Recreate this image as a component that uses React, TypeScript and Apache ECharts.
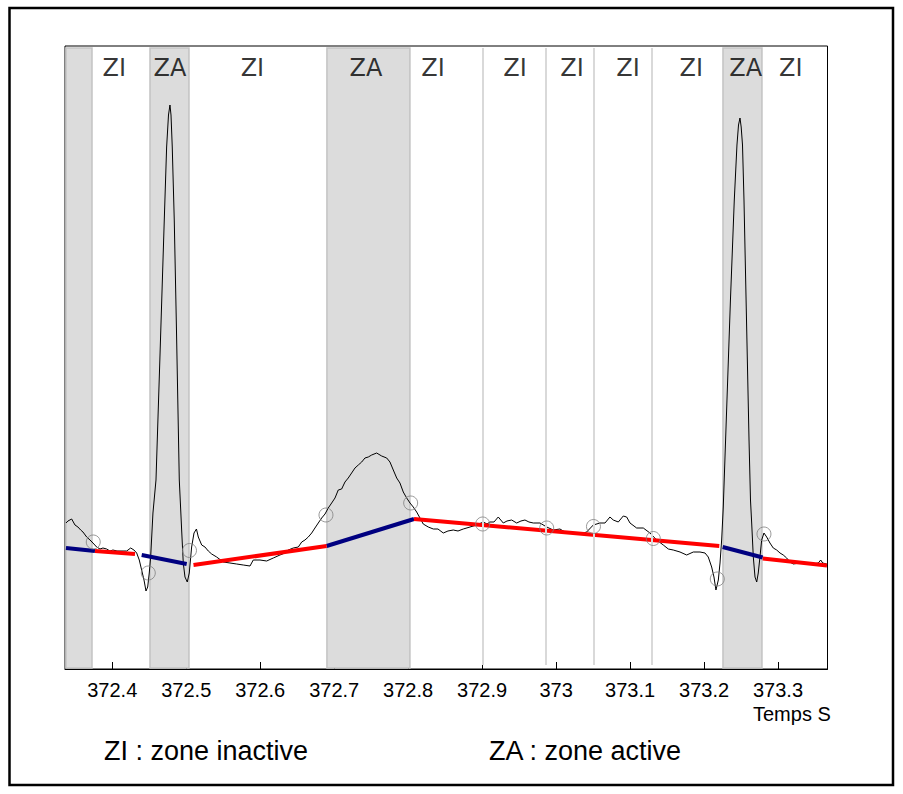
import React, { useEffect, useRef } from "react";
import * as echarts from "echarts";

// x axis tick values (seconds)
const tickValues = [372.4, 372.5, 372.6, 372.7, 372.8, 372.9, 373.0, 373.1, 373.2, 373.3];

// ECG trace: [time (s), amplitude (arbitrary units)]
const ecgSignal: [number, number][] = [
  [372.3374, 146], [372.3401, 148], [372.3451, 150], [372.3496, 144], [372.3536, 142],
  [372.3573, 139], [372.3604, 137], [372.3654, 132], [372.3699, 129], [372.3739, 126],
  [372.3789, 122], [372.3834, 120], [372.3874, 121], [372.3924, 120], [372.3969, 118],
  [372.4009, 119], [372.4064, 118], [372.4104, 118], [372.4158, 118], [372.4195, 118],
  [372.4249, 121], [372.4293, 119], [372.4330, 116], [372.4365, 109], [372.4397, 99],
  [372.4429, 89], [372.4456, 78], [372.4479, 82], [372.4500, 96], [372.4519, 112],
  [372.4550, 156], [372.4591, 189], [372.4645, 313], [372.4703, 449], [372.4735, 522],
  [372.4760, 554], [372.4780, 564], [372.4794, 554], [372.4811, 522], [372.4838, 449],
  [372.4868, 339], [372.4906, 189], [372.4938, 139], [372.4960, 106], [372.4983, 92],
  [372.5014, 87], [372.5041, 96], [372.5073, 122], [372.5105, 136], [372.5138, 140],
  [372.5163, 132], [372.5209, 124], [372.5253, 122], [372.5298, 118], [372.5344, 115],
  [372.5411, 112], [372.5501, 107], [372.5591, 106], [372.5682, 105], [372.5771, 104],
  [372.5862, 103], [372.5906, 109], [372.5997, 109], [372.6087, 108], [372.6177, 111],
  [372.6267, 114], [372.6335, 116], [372.6379, 119], [372.6447, 121], [372.6515, 122],
  [372.6561, 127], [372.6605, 129], [372.6650, 132], [372.6696, 136], [372.6740, 141],
  [372.6785, 146], [372.6831, 151], [372.6876, 155], [372.6920, 161], [372.6966, 166],
  [372.7011, 171], [372.7055, 179], [372.7101, 180], [372.7146, 187], [372.7190, 191],
  [372.7236, 196], [372.7281, 201], [372.7326, 204], [372.7372, 207], [372.7416, 211],
  [372.7461, 212], [372.7507, 214], [372.7574, 216], [372.7642, 213], [372.7710, 211],
  [372.7754, 207], [372.7799, 199], [372.7845, 191], [372.7889, 186], [372.7934, 177],
  [372.7980, 171], [372.8025, 166], [372.8069, 162], [372.8115, 157], [372.8160, 151],
  [372.8204, 145], [372.8272, 142], [372.8340, 140], [372.8403, 140], [372.8475, 136],
  [372.8538, 138], [372.8610, 139], [372.8674, 138], [372.8745, 140], [372.8836, 142],
  [372.8926, 144], [372.9016, 147], [372.9066, 145], [372.9106, 147], [372.9160, 147],
  [372.9218, 152], [372.9286, 146], [372.9336, 148], [372.9399, 149], [372.9467, 146],
  [372.9525, 148], [372.9579, 149], [372.9633, 147], [372.9692, 146], [372.9782, 146],
  [372.9873, 142], [372.9962, 139], [373.0052, 140], [373.0143, 136], [373.0232, 136],
  [373.0323, 135], [373.0413, 137], [373.0503, 144], [373.0593, 146], [373.0661, 146],
  [373.0728, 152], [373.0773, 149], [373.0841, 147], [373.0908, 153], [373.0954, 152],
  [373.0999, 146], [373.1089, 141], [373.1179, 141], [373.1269, 136], [373.1360, 129],
  [373.1449, 124], [373.1517, 120], [373.1584, 119], [373.1675, 117], [373.1765, 114],
  [373.1855, 117], [373.1945, 117], [373.2013, 116], [373.2057, 112], [373.2103, 102],
  [373.2134, 92], [373.2161, 79], [373.2193, 89], [373.2216, 106], [373.2238, 129],
  [373.2260, 162], [373.2310, 269], [373.2357, 369], [373.2409, 469], [373.2445, 524],
  [373.2466, 544], [373.2486, 551], [373.2502, 542], [373.2520, 524], [373.2540, 469],
  [373.2574, 349], [373.2608, 229], [373.2628, 169], [373.2644, 146], [373.2666, 112],
  [373.2689, 92], [373.2712, 87], [373.2733, 96], [373.2756, 112], [373.2779, 129],
  [373.2810, 136], [373.2847, 132], [373.2891, 126], [373.2936, 121], [373.2982, 119],
  [373.3027, 116], [373.3071, 114], [373.3117, 111], [373.3162, 107], [373.3206, 105],
  [373.3297, 106], [373.3388, 105], [373.3477, 105], [373.3545, 106], [373.3577, 109],
  [373.3604, 106], [373.3658, 105],
];

// Active zones (ZA), shaded bands [start, end]
const activeZones: [number, number][] = [
  [372.3374, 372.3726],
  [372.4510, 372.5037],
  [372.6902, 372.8024],
  [373.2256, 373.2783],
];

// Boundaries between consecutive inactive zones
const zoneDividers = [372.9005, 372.9863, 373.0512, 373.1296];

// Zone labels at the top [text, time]
const zoneLabels: [string, number][] = [
  ["ZI", 372.4028], ["ZA", 372.4780], ["ZI", 372.5895], ["ZA", 372.7430],
  ["ZI", 372.8336], ["ZI", 372.9444], ["ZI", 373.0215], ["ZI", 373.0972],
  ["ZI", 373.1828], ["ZA", 373.2564], ["ZI", 373.3173],
];

// Baseline segments in active zones (blue)
const blueSegments: [number, number][][] = [
  [[372.3374, 121], [372.3766, 118]],
  [[372.4398, 114], [372.5006, 105]],
  [[372.6898, 123], [372.8079, 150]],
  [[373.2252, 122], [373.2793, 111.5]],
];

// Baseline segments in inactive zones (red)
const redSegments: [number, number][][] = [
  [[372.3766, 118], [372.4307, 115]],
  [[372.5098, 104], [372.6898, 123]],
  [[372.8079, 150], [373.2206, 123]],
  [[373.2793, 110.5], [373.3662, 103.5]],
];

// Detected zone boundary points (open circles)
const boundaryMarks: [number, number][] = [
  [372.3743, 127], [372.4487, 96], [372.5044, 118.5], [372.6889, 154],
  [372.8034, 166], [372.9007, 145], [372.9873, 141], [373.0505, 142.5],
  [373.1314, 130.5], [373.2179, 90], [373.2810, 135],
];

const SANS = "'Liberation Sans', Arial, sans-serif";

export default function App() {
  const ref = useRef<HTMLDivElement>(null);

  useEffect(() => {
    document.body.style.margin = "0";
    if (!ref.current) return;
    const chart = echarts.init(ref.current, undefined, { renderer: "svg" });

    const segSeries = (segs: [number, number][][], color: string) =>
      segs.map((seg) => ({
        type: "line",
        data: seg,
        symbol: "none",
        showSymbol: false,
        silent: true,
        z: 4,
        lineStyle: { color, width: 4, cap: "butt" },
      }));

    const option: any = {
      animation: false,
      backgroundColor: "#ffffff",
      grid: {
        left: 65,
        right: 75.5,
        top: 46,
        bottom: 125,
        show: true,
        borderColor: "#000",
        borderWidth: 1,
        backgroundColor: "transparent",
      },
      xAxis: {
        type: "value",
        min: 372.3361,
        max: 373.3669,
        axisLine: { show: true, onZero: false, lineStyle: { color: "#000", width: 1 } },
        axisTick: {
          show: true,
          inside: true,
          length: 7,
          customValues: tickValues,
          lineStyle: { color: "#000", width: 1 },
        },
        axisLabel: {
          show: true,
          customValues: tickValues,
          margin: 11,
          fontSize: 20,
          fontFamily: SANS,
          color: "#000",
          formatter: (v: number) => String(Math.round(v * 10) / 10),
        },
        splitLine: { show: false },
      },
      yAxis: { type: "value", min: 0, max: 623, show: false },
      graphic: [
        {
          type: "rect",
          silent: true,
          shape: { x: 9.5, y: 8, width: 883.5, height: 777 },
          style: { fill: "none", stroke: "#000", lineWidth: 2.5 },
        },
        {
          type: "text",
          x: 753,
          y: 714,
          style: { text: "Temps S", fontSize: 20, fontFamily: SANS, fill: "#000", verticalAlign: "middle" },
        },
        {
          type: "text",
          x: 104,
          y: 751,
          style: { text: "ZI : zone inactive", fontSize: 27, fontFamily: SANS, fill: "#000", verticalAlign: "middle" },
        },
        {
          type: "text",
          x: 489,
          y: 751,
          style: { text: "ZA : zone active", fontSize: 27, fontFamily: SANS, fill: "#000", verticalAlign: "middle" },
        },
      ],
      series: [
        {
          type: "line",
          data: ecgSignal,
          symbol: "none",
          showSymbol: false,
          silent: true,
          z: 3,
          lineStyle: { color: "#000", width: 1 },
          markArea: {
            silent: true,
            itemStyle: { color: "#dcdcdc", borderColor: "#c3c3c3", borderWidth: 1.5 },
            data: activeZones.map(([a, b]) => [{ coord: [a, 1] }, { coord: [b, 621] }]),
          },
          markLine: {
            silent: true,
            symbol: ["none", "none"],
            label: { show: false },
            lineStyle: { color: "#d9d9d9", width: 2, type: "solid" },
            data: zoneDividers.map((t) => [{ coord: [t, 4] }, { coord: [t, 621] }]),
          },
        },
        ...segSeries(blueSegments, "#000080"),
        ...segSeries(redSegments, "#ff0000"),
        {
          type: "scatter",
          data: boundaryMarks,
          symbol: "circle",
          symbolSize: 14,
          silent: true,
          z: 5,
          itemStyle: { color: "rgba(0,0,0,0)", borderColor: "#808080", borderWidth: 1 },
        },
        {
          type: "scatter",
          data: zoneLabels.map(([n, t]) => ({ name: n, value: [t, 601] })),
          symbolSize: 1,
          silent: true,
          z: 6,
          itemStyle: { color: "rgba(0,0,0,0)" },
          label: {
            show: true,
            position: "inside",
            formatter: "{b}",
            fontSize: 24,
            fontFamily: "'DejaVu Sans', sans-serif",
            color: "#000",
          },
        },
      ],
    };

    chart.setOption(option);
    return () => chart.dispose();
  }, []);

  return <div ref={ref} style={{ width: 903, height: 794 }} />;
}
